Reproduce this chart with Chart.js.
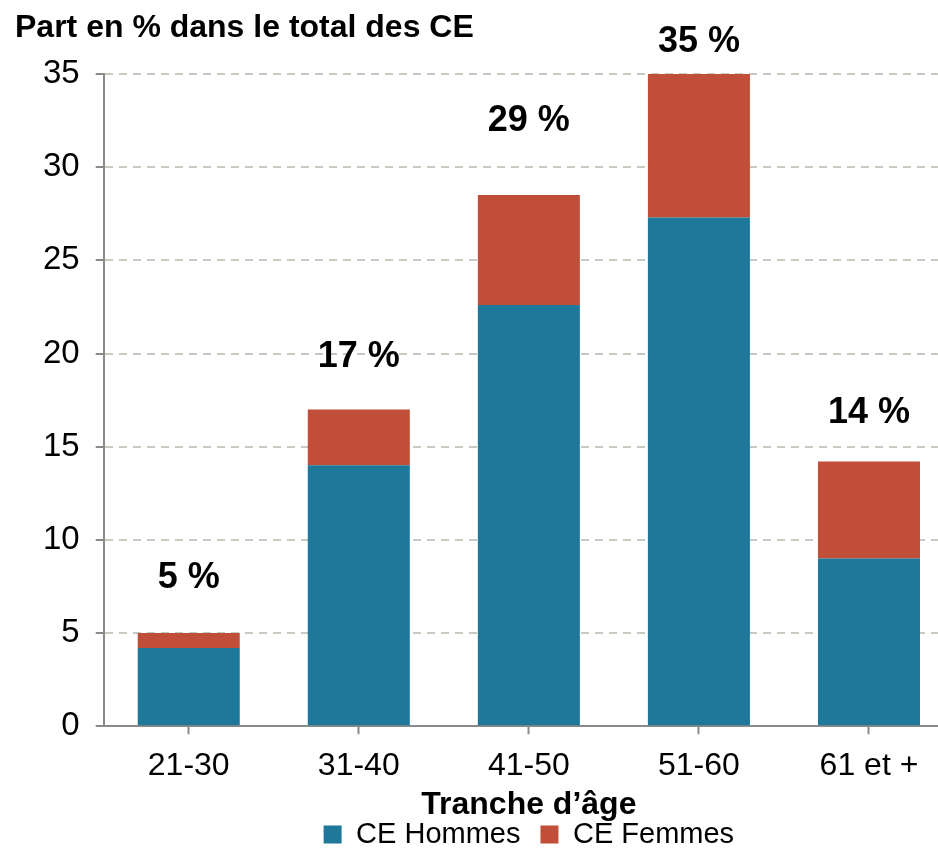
<!DOCTYPE html>
<html>
<head>
<meta charset="utf-8">
<script src="https://cdn.jsdelivr.net/npm/chart.js@4"></script>
<style>
  html, body { margin: 0; padding: 0; background: #fff; overflow: hidden; }
</style>
</head>
<body>
<canvas id="ceChart" width="955" height="848"></canvas>
<script>
const ageGroups = ['21-30', '31-40', '41-50', '51-60', '61 et +'];
const ceHommes = [4.2, 14.0, 22.6, 27.3, 9.0];
const ceFemmes = [0.8, 3.0, 5.9, 7.7, 5.2];
const totalLabels = ['5 %', '17 %', '29 %', '35 %', '14 %'];

const FONT = "'Liberation Sans', Arial, sans-serif";

// labels above each stack, and the y-axis heading at top-left
const topLabels = {
    id: 'topLabels',
    afterDatasetsDraw(chart, args, opts) {
        const ctx = chart.ctx;
        const meta = chart.getDatasetMeta(chart.data.datasets.length - 1);
        ctx.save();
        ctx.font = 'bold 36px ' + FONT;
        ctx.fillStyle = '#000';
        ctx.textAlign = 'center';
        ctx.textBaseline = 'middle';
        meta.data.forEach((bar, i) => {
            ctx.fillText(totalLabels[i], bar.x, bar.y - opts.offsets[i]);
        });
        ctx.font = 'bold 32px ' + FONT;
        ctx.textAlign = 'left';
        ctx.fillText('Part en % dans le total des CE', 15, 28);
        ctx.restore();
    }
};

const ctx = document.getElementById('ceChart').getContext('2d');
new Chart(ctx, {
    type: 'bar',
    data: {
        labels: ageGroups,
        datasets: [{
            label: 'CE Hommes',
            data: ceHommes,
            backgroundColor: '#1d7899'
        }, {
            label: 'CE Femmes',
            data: ceFemmes,
            backgroundColor: '#c04e39'
        }]
    },
    plugins: [topLabels],
    options: {
        responsive: false,
        devicePixelRatio: 1,
        animation: false,
        barPercentage: 0.6,
        categoryPercentage: 1,
        layout: { padding: { top: 74, left: 27, right: 1, bottom: -11 } },
        plugins: {
            tooltip: { enabled: false },
            topLabels: { offsets: [55, 52, 74, 32, 49] },
            legend: {
                position: 'bottom',
                fullSize: false,
                labels: {
                    font: { family: FONT, size: 29 },
                    color: '#000',
                    boxWidth: 18,
                    boxHeight: 18,
                    padding: 20
                }
            }
        },
        scales: {
            x: {
                stacked: true,
                border: { color: '#8a8a8a', width: 2 },
                grid: {
                    display: true,
                    drawOnChartArea: false,
                    offset: false,
                    tickLength: 8,
                    tickColor: '#8a8a8a',
                    tickWidth: 2
                },
                ticks: {
                    font: { family: FONT, size: 32 },
                    color: '#000',
                    padding: 13
                },
                title: {
                    display: true,
                    text: 'Tranche d\u2019âge',
                    font: { family: FONT, size: 32, weight: 'bold' },
                    color: '#000',
                    padding: { top: -13, bottom: -24 }
                }
            },
            y: {
                stacked: true,
                min: 0,
                max: 35,
                border: { color: '#8a8a8a', width: 2, dash: [8, 6] },
                grid: {
                    color: '#c5cbbf',
                    lineWidth: 2,
                    tickLength: 8,
                    tickColor: '#8a8a8a',
                    tickBorderDash: []
                },
                ticks: {
                    stepSize: 5,
                    font: { family: FONT, size: 33 },
                    color: '#000',
                    padding: 16
                }
            }
        }
    }
});
</script>
</body>
</html>
